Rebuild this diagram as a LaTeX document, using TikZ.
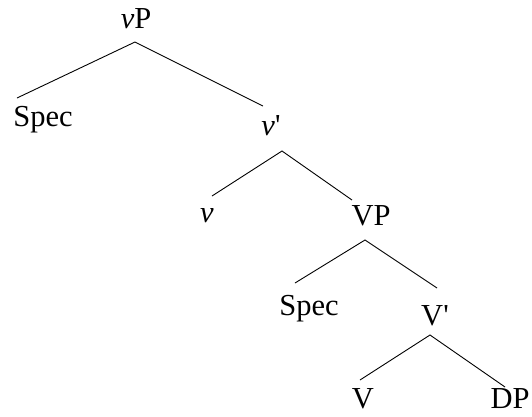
\documentclass[tikz,border=0pt]{standalone}
\usepackage{fontspec}
\newfontfamily\tnr{Liberation Serif}
\begin{document}
\begin{tikzpicture}[x=1pt,y=-1pt,
  lbl/.style={anchor=base,inner sep=0pt,font=\tnr\fontsize{30.5}{33}\selectfont},
  branch/.style={line width=0.9pt,black}]
\useasboundingbox (0,0) rectangle (532,416);
% labels
\node[lbl] (vP)    at (136,28)  {\textit{v}P};
\node[lbl] (spec1) at (43,126)  {Spec};
\node[lbl] (vbar)  at (271,135) {\textit{v}'};
\node[lbl] (v)     at (207,222) {\textit{v}};
\node[lbl] (VP)    at (371,225) {VP};
\node[lbl] (spec2) at (309,315) {Spec};
\node[lbl] (Vbar)  at (435,325) {V'};
\node[lbl] (V)     at (363,408) {V};
\node[lbl] (DP)    at (510,408) {DP};
% branch points
\coordinate (aVP) at (135,42);
\coordinate (eSpec1) at (17,98);
\coordinate (evbar) at (263,106);
\coordinate (avbar) at (282,151);
\coordinate (ev) at (212,196);
\coordinate (eVP) at (352,200);
\coordinate (aVPb) at (365,240);
\coordinate (eSpec2) at (295,283);
\coordinate (eVbar) at (437,288);
\coordinate (aVbar) at (430,335);
\coordinate (eV) at (360,380);
\coordinate (eDP) at (505,387);
% branches
\draw[branch] (eSpec1) -- (aVP) -- (evbar);
\draw[branch] (ev) -- (avbar) -- (eVP);
\draw[branch] (eSpec2) -- (aVPb) -- (eVbar);
\draw[branch] (eV) -- (aVbar) -- (eDP);
\end{tikzpicture}
\end{document}
